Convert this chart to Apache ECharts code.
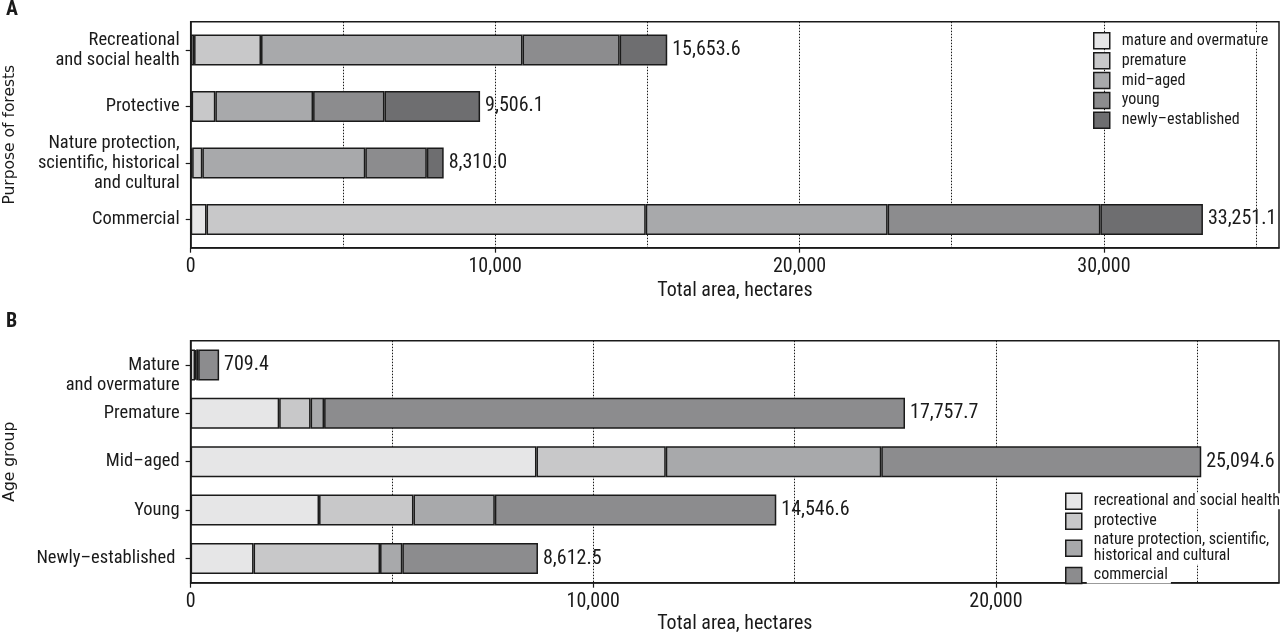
<!DOCTYPE html>
<html>
<head>
<meta charset="utf-8">
<script src="https://cdn.jsdelivr.net/npm/echarts@6/dist/echarts.min.js"></script>
<style>
html,body{margin:0;padding:0;background:#fff;}
#chart{width:1280px;height:634px;}
</style>
</head>
<body>
<div id="chart"></div>
<script>
// ---- data ----
const ageGroups = ['mature and overmature', 'premature', 'mid–aged', 'young', 'newly–established'];
const purposeNames = ['recreational and social health', 'protective', 'nature protection, scientific,\nhistorical and cultural', 'commercial'];
const purposeCats = ['Recreational\nand social health', 'Protective', 'Nature protection,\nscientific, historical\nand cultural', 'Commercial'];
const ageCats = ['Mature\nand overmature', 'Premature', 'Mid–aged', 'Young', 'Newly–established '];
// area (ha) by purpose, per age group [mature, premature, mid-aged, young, newly]
const recreational = [110, 2200, 8590, 3190, 1563.6];
const protective = [30, 780, 3210, 2345, 3141.1];
const natureProt = [48, 335, 5353, 2020, 554];
const commercial = [520, 14427, 7946, 6990, 3368.1];
const purposeTotals = [15653.6, 9506.1, 8310.0, 33251.1];
const ageTotals = [709.4, 17757.7, 25094.6, 14546.6, 8612.5];
const tickLabelsA = [0, 10000, 20000, 30000];
const tickLabelsB = [0, 10000, 20000];

const ageColors = ['#e6e6e7', '#c8c8c9', '#a8a9ab', '#8c8c8e', '#6e6e70'];
const purposeColors = ['#e6e6e7', '#c8c8c9', '#a8a9ab', '#8c8c8e'];

const FONT = '"Liberation Sans Narrow", "Roboto Condensed", "DejaVu Sans Condensed", Roboto, sans-serif';
const FONT2 = '"DejaVu Sans", Verdana, sans-serif';
const INK = '#1a1a1a';
const fmtTotal = v => v.toLocaleString('en-US', {minimumFractionDigits: 1, maximumFractionDigits: 1});
const fmtTick = v => v.toLocaleString('en-US');

const purposeRows = [recreational, protective, natureProt, commercial];

function xAxisCfg(gridIndex, max, ticks, nameGap) {
  return {
    type: 'value', gridIndex: gridIndex, min: 0, max: max, interval: 10000,
    axisLine: {show: true, lineStyle: {color: INK, width: 1.5}},
    axisTick: {show: true, customValues: ticks, length: 5, lineStyle: {color: INK, width: 1.2}},
    axisLabel: {customValues: ticks, formatter: fmtTick, fontFamily: FONT, fontSize: 20, color: INK, margin: 9},
    splitLine: {show: false},
    name: 'Total area, hectares', nameLocation: 'middle', nameGap: nameGap,
    nameTextStyle: {fontFamily: FONT, fontSize: 20, color: INK}
  };
}
// helper axis only for the dotted 5,000-step grid lines
function gridLineAxis(gridIndex, max) {
  return {
    type: 'value', gridIndex: gridIndex, min: 0, max: max, interval: 5000,
    axisLine: {show: false}, axisTick: {show: false}, axisLabel: {show: false},
    splitLine: {show: true, showMinLine: false, showMaxLine: false, lineStyle: {color: INK, width: 1, type: [1.5, 1.5]}}
  };
}
function yAxisCfg(gridIndex, cats, name, nameGap, labelFormatter) {
  return {
    type: 'category', gridIndex: gridIndex, data: cats, inverse: true,
    axisLine: {show: true, lineStyle: {color: INK, width: 1.5}},
    axisTick: {show: true, alignWithLabel: true, length: 5, lineStyle: {color: INK, width: 1.2}},
    axisLabel: {fontFamily: FONT, fontSize: 18.5, lineHeight: 20, color: INK, margin: 11, formatter: labelFormatter},
    splitLine: {show: false},
    name: name, nameLocation: 'middle', nameGap: nameGap, nameRotate: 90,
    nameTextStyle: {fontFamily: FONT2, fontSize: 15.5, color: INK}
  };
}

const series = [];
ageGroups.forEach((ag, i) => {
  series.push({
    type: 'bar', name: ag, stack: 'A', xAxisIndex: 0, yAxisIndex: 0,
    barCategoryGap: '45%',
    data: purposeRows.map(r => r[i]),
    itemStyle: {color: ageColors[i], borderColor: INK, borderWidth: 1.5},
    label: i === ageGroups.length - 1 ? {
      show: true, position: 'right', distance: 5, fontFamily: FONT, fontSize: 20, color: INK,
      formatter: p => fmtTotal(purposeTotals[p.dataIndex])
    } : {show: false},
    emphasis: {disabled: true}
  });
});
purposeNames.forEach((pn, j) => {
  series.push({
    type: 'bar', name: pn, stack: 'B', xAxisIndex: 1, yAxisIndex: 1,
    barCategoryGap: '36%',
    data: purposeRows[j],
    itemStyle: {color: purposeColors[j], borderColor: INK, borderWidth: 1.5},
    label: j === purposeNames.length - 1 ? {
      show: true, position: 'right', distance: 5, fontFamily: FONT, fontSize: 20, color: INK,
      formatter: p => fmtTotal(ageTotals[p.dataIndex])
    } : {show: false},
    emphasis: {disabled: true}
  });
});

const legendCommon = {
  orient: 'vertical', itemWidth: 16, itemHeight: 16, itemGap: 2.4, icon: 'rect',
  selectedMode: false, padding: 0,
  itemStyle: {borderColor: INK, borderWidth: 1.5},
  textStyle: {fontFamily: FONT, fontSize: 16, lineHeight: 16, color: INK, backgroundColor: '#fff', padding: [0, 3, 0, 7]}
};

const gridCommon = {right: 1, show: true, borderColor: INK, borderWidth: 1.5, backgroundColor: 'transparent', containLabel: false, outerBoundsMode: 'none'};

// the first (two-line) age label sits a little lower in the original: pad with a blank leading line
const ageLabelFormatter = (v, idx) => idx === 0 ? '\n' + v : v;

const option = {
  animation: false,
  backgroundColor: '#fff',
  title: [
    {text: 'A', left: 6, top: 0, padding: 0, textStyle: {fontFamily: FONT, fontSize: 20, fontWeight: 'bold', color: INK}},
    {text: 'B', left: 6, top: 312, padding: 0, textStyle: {fontFamily: FONT, fontSize: 20, fontWeight: 'bold', color: INK}}
  ],
  legend: [
    Object.assign({}, legendCommon, {data: ageGroups, left: 1093, top: 32}),
    Object.assign({}, legendCommon, {data: purposeNames, left: 1065, top: 492.5})
  ],
  grid: [
    Object.assign({}, gridCommon, {left: 190.7, top: 21.7, height: 226}),
    Object.assign({}, gridCommon, {left: 190.6, top: 340.7, height: 242})
  ],
  xAxis: [
    xAxisCfg(0, 35750, tickLabelsA, 33),
    xAxisCfg(1, 27030, tickLabelsB, 31),
    gridLineAxis(0, 35750),
    gridLineAxis(1, 27030)
  ],
  yAxis: [
    yAxisCfg(0, purposeCats, 'Purpose of forests', 173),
    yAxisCfg(1, ageCats, 'Age group', 173, ageLabelFormatter)
  ],
  series: series
};

const chart = echarts.init(document.getElementById('chart'));
chart.setOption(option);
</script>
</body>
</html>
